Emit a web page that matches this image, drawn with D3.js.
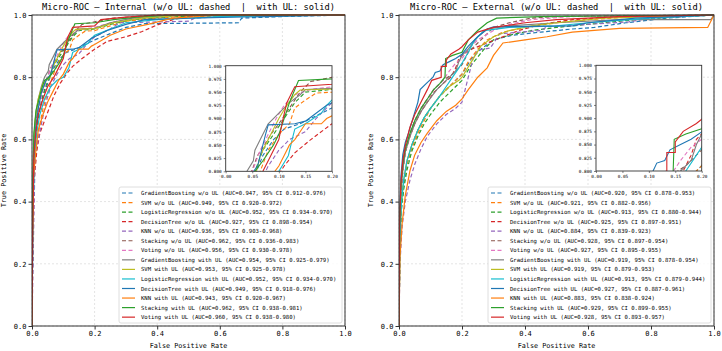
<!DOCTYPE html>
<html>
<head>
<meta charset="utf-8">
<script src="https://cdn.jsdelivr.net/npm/d3@7"></script>
<style>
  body { margin: 0; background: #fff; }
  svg { display: block; }
  text { font-family: "DejaVu Sans Mono", "Liberation Mono", monospace; fill: #000; white-space: pre; }
</style>
</head>
<body>
<div id="chart"></div>
<script>
const models = ["GradientBoosting", "SVM", "LogisticRegression", "DecisionTree", "KNN", "Stacking", "Voting"];
const colorsWithout = ["#1f77b4", "#ff7f0e", "#2ca02c", "#d62728", "#9467bd", "#8c564b", "#e377c2"];
const colorsWith = ["#7f7f7f", "#bcbd22", "#17becf", "#1f77b4", "#ff7f0e", "#2ca02c", "#d62728"];
const ticks = [0, 0.2, 0.4, 0.6, 0.8, 1.0];
const insetXTicks = [0, 0.05, 0.1, 0.15, 0.2];
const insetYTicks = [0.8, 0.825, 0.85, 0.875, 0.9, 0.925, 0.95, 0.975, 1.0];

// legend numbers
const intAucWithout = ["0.947", "0.949", "0.952", "0.927", "0.936", "0.962", "0.956"];
const intCiWithout = ["0.912-0.976", "0.920-0.972", "0.934-0.970", "0.898-0.954", "0.903-0.968", "0.936-0.983", "0.930-0.978"];
const intAucWith = ["0.954", "0.953", "0.952", "0.949", "0.943", "0.962", "0.960"];
const intCiWith = ["0.925-0.979", "0.925-0.978", "0.934-0.970", "0.918-0.976", "0.920-0.967", "0.938-0.981", "0.938-0.980"];
const extAucWithout = ["0.920", "0.921", "0.913", "0.925", "0.884", "0.928", "0.927"];
const extCiWithout = ["0.878-0.953", "0.882-0.956", "0.880-0.944", "0.897-0.951", "0.839-0.923", "0.897-0.954", "0.895-0.955"];
const extAucWith = ["0.919", "0.919", "0.913", "0.927", "0.883", "0.929", "0.928"];
const extCiWith = ["0.878-0.954", "0.879-0.953", "0.879-0.944", "0.887-0.961", "0.838-0.924", "0.899-0.955", "0.893-0.957"];

// ROC curves [fpr, tpr]
const internalWithout = [
  [[0,0],[0,0.05],[0.003,0.3],[0.006,0.5],[0.01,0.6],[0.02,0.68],[0.035,0.74],[0.05,0.78],[0.07,0.83],[0.09,0.86],[0.11,0.88],[0.14,0.89],[0.17,0.905],[0.2,0.92],[0.25,0.94],[0.3,0.96],[0.36,0.972],[0.66,0.975],[0.67,0.99],[0.8,0.995],[1,1]],
  [[0,0],[0.002,0.3],[0.006,0.48],[0.012,0.55],[0.02,0.62],[0.035,0.7],[0.05,0.75],[0.065,0.8],[0.08,0.84],[0.1,0.87],[0.12,0.89],[0.13,0.92],[0.15,0.935],[0.17,0.948],[0.2,0.95],[0.25,0.965],[0.3,0.98],[0.4,0.99],[0.55,1],[1,1]],
  [[0,0],[0.003,0.35],[0.008,0.55],[0.015,0.63],[0.025,0.7],[0.04,0.76],[0.055,0.8],[0.07,0.84],[0.09,0.87],[0.11,0.9],[0.13,0.93],[0.15,0.95],[0.2,0.955],[0.25,0.97],[0.32,0.985],[0.45,0.995],[1,1]],
  [[0,0],[0.003,0.3],[0.008,0.48],[0.015,0.56],[0.025,0.62],[0.04,0.66],[0.055,0.7],[0.07,0.74],[0.09,0.78],[0.11,0.81],[0.13,0.835],[0.16,0.86],[0.2,0.89],[0.24,0.915],[0.3,0.93],[0.35,0.946],[0.4,0.968],[0.45,0.985],[0.5,0.995],[0.6,1],[1,1]],
  [[0,0],[0.005,0.3],[0.008,0.45],[0.01,0.55],[0.02,0.6],[0.03,0.65],[0.045,0.72],[0.06,0.77],[0.08,0.81],[0.1,0.84],[0.12,0.86],[0.15,0.875],[0.17,0.9],[0.2,0.93],[0.25,0.955],[0.28,0.975],[0.5,0.98],[0.52,0.99],[0.7,1],[1,1]],
  [[0,0],[0.002,0.35],[0.005,0.55],[0.01,0.64],[0.02,0.7],[0.03,0.75],[0.045,0.79],[0.06,0.83],[0.07,0.845],[0.085,0.87],[0.1,0.89],[0.12,0.92],[0.14,0.95],[0.16,0.97],[0.2,0.978],[0.26,0.99],[0.4,1],[1,1]],
  [[0,0],[0.002,0.35],[0.006,0.55],[0.012,0.64],[0.022,0.7],[0.035,0.76],[0.05,0.8],[0.065,0.84],[0.08,0.87],[0.095,0.9],[0.11,0.925],[0.13,0.945],[0.16,0.955],[0.2,0.96],[0.27,0.98],[0.35,0.99],[0.5,1],[1,1]]
];
const internalWith = [
  [[0,0],[0.002,0.4],[0.005,0.58],[0.01,0.66],[0.018,0.72],[0.03,0.77],[0.04,0.8],[0.052,0.82],[0.055,0.84],[0.065,0.86],[0.08,0.89],[0.1,0.91],[0.12,0.93],[0.14,0.945],[0.15,0.955],[0.2,0.957],[0.25,0.975],[0.32,0.99],[0.45,1],[1,1]],
  [[0,0],[0.002,0.4],[0.006,0.6],[0.012,0.68],[0.02,0.73],[0.035,0.78],[0.058,0.8],[0.065,0.83],[0.08,0.86],[0.1,0.9],[0.115,0.925],[0.13,0.945],[0.14,0.954],[0.2,0.956],[0.26,0.975],[0.35,0.99],[0.5,1],[1,1]],
  [[0,0],[0.003,0.35],[0.008,0.55],[0.015,0.62],[0.025,0.68],[0.04,0.73],[0.06,0.77],[0.08,0.79],[0.1,0.8],[0.118,0.83],[0.125,0.86],[0.13,0.88],[0.15,0.89],[0.18,0.91],[0.19,0.925],[0.2,0.935],[0.25,0.955],[0.3,0.975],[0.4,0.985],[0.6,0.995],[1,1]],
  [[0,0],[0.002,0.3],[0.006,0.55],[0.012,0.64],[0.02,0.7],[0.03,0.75],[0.045,0.79],[0.06,0.81],[0.07,0.85],[0.075,0.87],[0.08,0.888],[0.13,0.89],[0.15,0.895],[0.17,0.91],[0.19,0.925],[0.2,0.93],[0.24,0.95],[0.3,0.97],[0.36,0.985],[0.5,0.99],[1,1]],
  [[0,0],[0.002,0.3],[0.005,0.48],[0.012,0.56],[0.02,0.63],[0.035,0.68],[0.05,0.72],[0.07,0.76],[0.085,0.79],[0.1,0.81],[0.11,0.83],[0.12,0.85],[0.13,0.86],[0.14,0.875],[0.15,0.89],[0.18,0.89],[0.19,0.9],[0.2,0.905],[0.25,0.935],[0.3,0.955],[0.37,0.97],[0.45,0.99],[0.6,1],[1,1]],
  [[0,0],[0.002,0.4],[0.006,0.62],[0.013,0.695],[0.02,0.72],[0.03,0.76],[0.04,0.79],[0.055,0.8],[0.07,0.82],[0.09,0.85],[0.1,0.87],[0.11,0.9],[0.12,0.93],[0.13,0.955],[0.137,0.972],[0.2,0.975],[0.26,0.985],[0.35,0.995],[0.45,1],[1,1]],
  [[0,0],[0.002,0.3],[0.006,0.55],[0.013,0.63],[0.02,0.68],[0.035,0.73],[0.05,0.77],[0.07,0.8],[0.085,0.83],[0.1,0.86],[0.108,0.9],[0.115,0.93],[0.125,0.95],[0.13,0.96],[0.2,0.965],[0.22,0.985],[0.3,0.993],[0.4,1],[1,1]]
];
const externalWithout = [
  [[0,0],[0.003,0.25],[0.008,0.38],[0.015,0.45],[0.025,0.52],[0.04,0.58],[0.06,0.63],[0.08,0.67],[0.1,0.7],[0.13,0.74],[0.16,0.77],[0.19,0.8],[0.2,0.81],[0.23,0.86],[0.26,0.89],[0.3,0.92],[0.36,0.935],[0.45,0.945],[0.55,0.955],[0.62,0.96],[0.72,0.975],[0.85,0.99],[1,1]],
  [[0,0],[0.003,0.3],[0.008,0.4],[0.015,0.47],[0.025,0.52],[0.04,0.57],[0.06,0.62],[0.08,0.66],[0.1,0.7],[0.13,0.74],[0.16,0.77],[0.19,0.8],[0.2,0.81],[0.22,0.85],[0.25,0.89],[0.28,0.92],[0.33,0.945],[0.4,0.96],[0.5,0.975],[0.6,0.985],[0.75,0.995],[1,1]],
  [[0,0],[0.003,0.28],[0.008,0.38],[0.015,0.44],[0.025,0.5],[0.04,0.56],[0.06,0.61],[0.08,0.65],[0.1,0.68],[0.13,0.72],[0.16,0.75],[0.2,0.79],[0.23,0.84],[0.27,0.89],[0.3,0.92],[0.35,0.935],[0.42,0.95],[0.5,0.96],[0.6,0.97],[0.75,0.985],[0.9,0.995],[1,1]],
  [[0,0],[0.002,0.3],[0.006,0.42],[0.012,0.5],[0.02,0.56],[0.035,0.61],[0.05,0.65],[0.07,0.69],[0.09,0.72],[0.11,0.75],[0.14,0.78],[0.165,0.8],[0.18,0.83],[0.19,0.86],[0.2,0.87],[0.23,0.89],[0.28,0.91],[0.33,0.93],[0.38,0.95],[0.45,0.97],[0.55,0.985],[0.7,0.995],[1,1]],
  [[0,0],[0.003,0.2],[0.01,0.32],[0.02,0.4],[0.035,0.47],[0.05,0.52],[0.07,0.57],[0.09,0.61],[0.12,0.65],[0.15,0.68],[0.18,0.7],[0.2,0.72],[0.21,0.76],[0.22,0.8],[0.235,0.86],[0.25,0.887],[0.29,0.894],[0.32,0.94],[0.45,0.95],[0.47,0.962],[0.73,0.978],[0.8,0.99],[1,1]],
  [[0,0],[0.002,0.3],[0.006,0.42],[0.012,0.5],[0.02,0.56],[0.035,0.62],[0.05,0.66],[0.07,0.7],[0.09,0.73],[0.11,0.76],[0.14,0.79],[0.17,0.81],[0.19,0.83],[0.2,0.84],[0.22,0.88],[0.25,0.91],[0.28,0.94],[0.3,0.96],[0.35,0.975],[0.42,0.99],[0.5,0.995],[1,1]],
  [[0,0],[0.002,0.3],[0.006,0.43],[0.012,0.5],[0.02,0.56],[0.035,0.62],[0.05,0.66],[0.07,0.7],[0.09,0.73],[0.11,0.76],[0.14,0.79],[0.16,0.82],[0.18,0.845],[0.2,0.86],[0.22,0.89],[0.25,0.92],[0.3,0.95],[0.35,0.97],[0.42,0.985],[0.55,0.995],[1,1]]
];
const externalWith = [
  [[0,0],[0.002,0.3],[0.006,0.43],[0.012,0.5],[0.02,0.56],[0.035,0.61],[0.05,0.65],[0.07,0.69],[0.09,0.72],[0.12,0.76],[0.15,0.79],[0.18,0.82],[0.19,0.85],[0.2,0.87],[0.22,0.89],[0.25,0.93],[0.28,0.955],[0.35,0.965],[0.5,0.975],[0.7,0.985],[0.99,0.985],[1,1]],
  [[0,0],[0.003,0.28],[0.008,0.4],[0.015,0.47],[0.025,0.53],[0.04,0.58],[0.06,0.63],[0.08,0.67],[0.1,0.7],[0.13,0.74],[0.16,0.77],[0.19,0.79],[0.2,0.8],[0.23,0.85],[0.26,0.9],[0.3,0.93],[0.35,0.95],[0.42,0.965],[0.5,0.975],[0.65,0.99],[1,1]],
  [[0,0],[0.003,0.28],[0.008,0.4],[0.015,0.47],[0.025,0.53],[0.04,0.58],[0.06,0.63],[0.08,0.67],[0.1,0.7],[0.13,0.74],[0.15,0.77],[0.17,0.8],[0.19,0.83],[0.2,0.845],[0.22,0.88],[0.24,0.92],[0.27,0.95],[0.35,0.96],[0.5,0.965],[0.6,0.975],[0.8,0.99],[1,1]],
  [[0,0],[0.002,0.35],[0.006,0.48],[0.012,0.55],[0.02,0.59],[0.03,0.62],[0.045,0.67],[0.06,0.72],[0.067,0.76],[0.087,0.78],[0.108,0.8],[0.115,0.815],[0.13,0.82],[0.14,0.84],[0.16,0.85],[0.18,0.86],[0.2,0.874],[0.22,0.9],[0.25,0.93],[0.28,0.955],[0.3,0.962],[0.55,0.965],[0.6,0.975],[0.75,0.99],[1,1]],
  [[0,0],[0.003,0.22],[0.01,0.33],[0.02,0.42],[0.035,0.5],[0.05,0.55],[0.07,0.59],[0.09,0.62],[0.12,0.66],[0.15,0.69],[0.18,0.71],[0.2,0.73],[0.22,0.76],[0.25,0.8],[0.28,0.83],[0.3,0.87],[0.33,0.91],[0.4,0.92],[0.47,0.93],[0.55,0.945],[0.7,0.957],[0.98,0.96],[1,1]],
  [[0,0],[0.002,0.32],[0.006,0.45],[0.012,0.52],[0.02,0.57],[0.035,0.62],[0.05,0.66],[0.07,0.7],[0.09,0.73],[0.11,0.76],[0.13,0.78],[0.146,0.8],[0.148,0.86],[0.17,0.87],[0.2,0.88],[0.22,0.92],[0.25,0.95],[0.28,0.975],[0.31,0.99],[0.45,0.995],[1,1]],
  [[0,0],[0.002,0.33],[0.006,0.46],[0.012,0.53],[0.02,0.58],[0.035,0.64],[0.05,0.68],[0.07,0.72],[0.09,0.76],[0.104,0.79],[0.134,0.8],[0.134,0.835],[0.15,0.835],[0.15,0.855],[0.165,0.875],[0.19,0.89],[0.2,0.898],[0.22,0.92],[0.25,0.945],[0.3,0.96],[0.4,0.975],[0.5,0.985],[0.7,0.995],[1,1]]
];

const width = 722;
const height = 351;

const svg = d3.select("#chart").append("svg")
  .attr("width", width)
  .attr("height", height);

function drawPanel(opt) {
  const x = d3.scaleLinear().domain([0, 1]).range([opt.left, opt.right]);
  const y = d3.scaleLinear().domain([0, 1]).range([opt.bottom, opt.top]);
  const g = svg.append("g");

  // grid
  g.append("g").selectAll("line.vg").data(ticks).join("line")
    .attr("x1", d => x(d)).attr("x2", d => x(d))
    .attr("y1", opt.top).attr("y2", opt.bottom)
    .attr("stroke", "#d0d0d0").attr("stroke-width", 0.6).attr("stroke-dasharray", "2,2");
  g.append("g").selectAll("line.hg").data(ticks).join("line")
    .attr("y1", d => y(d)).attr("y2", d => y(d))
    .attr("x1", opt.left).attr("x2", opt.right)
    .attr("stroke", "#d0d0d0").attr("stroke-width", 0.6).attr("stroke-dasharray", "2,2");

  const clipId = "clip-" + opt.id;
  svg.append("clipPath").attr("id", clipId).append("rect")
    .attr("x", opt.left).attr("y", opt.top - 1)
    .attr("width", opt.right - opt.left).attr("height", opt.bottom - opt.top + 1);

  const line = d3.line().x(d => x(d[0])).y(d => y(d[1]));
  const curves = g.append("g").attr("clip-path", `url(#${clipId})`);
  opt.without.forEach((c, i) => {
    curves.append("path").attr("d", line(c)).attr("fill", "none")
      .attr("stroke", colorsWithout[i]).attr("stroke-width", 1.2)
      .attr("stroke-dasharray", "4,2.5");
  });
  opt.withUL.forEach((c, i) => {
    curves.append("path").attr("d", line(c)).attr("fill", "none")
      .attr("stroke", colorsWith[i]).attr("stroke-width", 1.2);
  });

  // axes
  g.append("g").attr("transform", `translate(0,${opt.bottom})`)
    .call(d3.axisBottom(x).tickValues(ticks).tickFormat(d3.format(".1f")).tickSize(3.5).tickPadding(2))
    .call(a => a.select(".domain").remove())
    .call(a => a.selectAll("text").attr("font-size", "7px").attr("font-family", null))
    .call(a => a.selectAll("line").attr("stroke", "#333"));
  g.append("g").attr("transform", `translate(${opt.left},0)`)
    .call(d3.axisLeft(y).tickValues(ticks).tickFormat(d3.format(".1f")).tickSize(3.5).tickPadding(2))
    .call(a => a.select(".domain").remove())
    .call(a => a.selectAll("text").attr("font-size", "7px").attr("font-family", null))
    .call(a => a.selectAll("line").attr("stroke", "#333"));

  g.append("rect")
    .attr("x", opt.left).attr("y", opt.top)
    .attr("width", opt.right - opt.left).attr("height", opt.bottom - opt.top)
    .attr("fill", "none").attr("stroke", "#333").attr("stroke-width", 1);

  g.append("text").attr("x", (opt.left + opt.right) / 2).attr("y", 10)
    .attr("text-anchor", "middle").attr("font-size", "8.7px")
    .text(opt.title);
  g.append("text").attr("x", (opt.left + opt.right) / 2).attr("y", 348)
    .attr("text-anchor", "middle").attr("font-size", "6.8px")
    .text("False Positive Rate");
  g.append("text")
    .attr("transform", `translate(${opt.left - 26},${(opt.top + opt.bottom) / 2}) rotate(-90)`)
    .attr("text-anchor", "middle").attr("font-size", "6.8px")
    .text("True Positive Rate");

  // inset
  const ix = d3.scaleLinear().domain([0, 0.2]).range([opt.inset.left, opt.inset.right]);
  const iy = d3.scaleLinear().domain([0.8, 1.0]).range([opt.inset.bottom, opt.inset.top]);
  const ig = svg.append("g");
  ig.append("rect")
    .attr("x", opt.inset.left).attr("y", opt.inset.top)
    .attr("width", opt.inset.right - opt.inset.left).attr("height", opt.inset.bottom - opt.inset.top)
    .attr("fill", "#fff");
  const iclip = "iclip-" + opt.id;
  svg.append("clipPath").attr("id", iclip).append("rect")
    .attr("x", opt.inset.left).attr("y", opt.inset.top)
    .attr("width", opt.inset.right - opt.inset.left).attr("height", opt.inset.bottom - opt.inset.top);
  const iline = d3.line().x(d => ix(d[0])).y(d => iy(d[1]));
  const icurves = ig.append("g").attr("clip-path", `url(#${iclip})`);
  opt.without.forEach((c, i) => {
    icurves.append("path").attr("d", iline(c)).attr("fill", "none")
      .attr("stroke", colorsWithout[i]).attr("stroke-width", 1.1)
      .attr("stroke-dasharray", "4,2.5");
  });
  opt.withUL.forEach((c, i) => {
    icurves.append("path").attr("d", iline(c)).attr("fill", "none")
      .attr("stroke", colorsWith[i]).attr("stroke-width", 1.1);
  });
  ig.append("g").attr("transform", `translate(0,${opt.inset.bottom})`)
    .call(d3.axisBottom(ix).tickValues(insetXTicks).tickFormat(d3.format(".2f")).tickSize(2).tickPadding(2))
    .call(a => a.select(".domain").remove())
    .call(a => a.selectAll("text").attr("font-size", "4.4px").attr("font-family", null).attr("fill", "#333"))
    .call(a => a.selectAll("line").attr("stroke", "#333").attr("stroke-width", 0.6));
  ig.append("g").attr("transform", `translate(${opt.inset.left},0)`)
    .call(d3.axisLeft(iy).tickValues(insetYTicks).tickFormat(d3.format(".3f")).tickSize(2).tickPadding(2))
    .call(a => a.select(".domain").remove())
    .call(a => a.selectAll("text").attr("font-size", "4.4px").attr("font-family", null).attr("fill", "#333"))
    .call(a => a.selectAll("line").attr("stroke", "#333").attr("stroke-width", 0.6));
  ig.append("rect")
    .attr("x", opt.inset.left).attr("y", opt.inset.top)
    .attr("width", opt.inset.right - opt.inset.left).attr("height", opt.inset.bottom - opt.inset.top)
    .attr("fill", "none").attr("stroke", "#333").attr("stroke-width", 0.9);

  // legend
  const entries = [];
  models.forEach((m, i) => entries.push({
    label: `${m} w/o UL (AUC=${opt.aucWithout[i]}, 95% CI ${opt.ciWithout[i]})`,
    color: colorsWithout[i], dashed: true
  }));
  models.forEach((m, i) => entries.push({
    label: `${m} with UL (AUC=${opt.aucWith[i]}, 95% CI ${opt.ciWith[i]})`,
    color: colorsWith[i], dashed: false
  }));
  const lg = svg.append("g");
  lg.append("rect")
    .attr("x", opt.legend.left).attr("y", opt.legend.top)
    .attr("width", opt.legend.right - opt.legend.left).attr("height", opt.legend.bottom - opt.legend.top)
    .attr("rx", 2).attr("fill", "#fff").attr("fill-opacity", 0.85)
    .attr("stroke", "#d6d6d6").attr("stroke-width", 0.8);
  const row = lg.selectAll("g.entry").data(entries).join("g")
    .attr("transform", (d, i) => `translate(${opt.legend.left + 3},${opt.legend.top + 6 + i * 9.55})`);
  row.append("line").attr("x1", 0).attr("x2", 13).attr("y1", 0).attr("y2", 0)
    .attr("stroke", d => d.color).attr("stroke-width", 1.2)
    .attr("stroke-dasharray", d => d.dashed ? "4,2.5" : null);
  row.append("text").attr("x", 19).attr("y", 2).attr("font-size", "5.6px")
    .text(d => d.label);
}

drawPanel({
  id: "int", left: 32, right: 345, top: 15, bottom: 326,
  title: "Micro-ROC \u2014 Internal (w/o UL: dashed  |  with UL: solid)",
  without: internalWithout, withUL: internalWith,
  aucWithout: intAucWithout, ciWithout: intCiWithout, aucWith: intAucWith, ciWith: intCiWith,
  inset: { left: 225.7, right: 332, top: 65.7, bottom: 171.3 },
  legend: { left: 119, right: 342, top: 187, bottom: 323 }
});

drawPanel({
  id: "ext", left: 399, right: 714, top: 15, bottom: 326,
  title: "Micro-ROC \u2014 External (w/o UL: dashed  |  with UL: solid)",
  without: externalWithout, withUL: externalWith,
  aucWithout: extAucWithout, ciWithout: extCiWithout, aucWith: extAucWith, ciWith: extCiWith,
  inset: { left: 596, right: 701.7, top: 65.3, bottom: 171 },
  legend: { left: 488, right: 711, top: 187, bottom: 323 }
});
</script>
</body>
</html>
